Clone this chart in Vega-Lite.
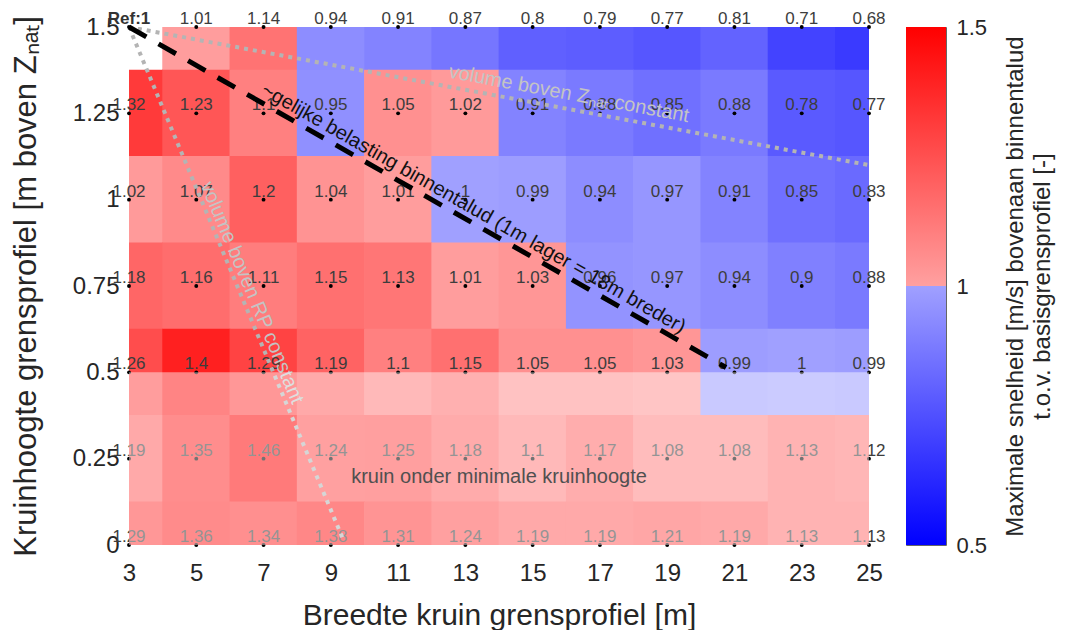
{
  "$schema": "https://vega.github.io/schema/vega-lite/v6.json",
  "background": "white",
  "padding": {"left": 10, "top": 10, "right": 5, "bottom": 0},
  "config": {
    "font": "Liberation Sans",
    "view": {"stroke": null},
    "axis": {
      "grid": false,
      "domain": false,
      "ticks": false,
      "labelColor": "#262626",
      "titleColor": "#262626",
      "titleFontWeight": "normal",
      "labelFont": "Liberation Sans",
      "titleFont": "Liberation Sans"
    }
  },
  "datasets": {
    "grid": [
      {"breedte": 3, "kruinhoogte": 1.5, "snelheid": 1, "ref": true},
      {"breedte": 5, "kruinhoogte": 1.5, "snelheid": 1.01},
      {"breedte": 7, "kruinhoogte": 1.5, "snelheid": 1.14},
      {"breedte": 9, "kruinhoogte": 1.5, "snelheid": 0.94},
      {"breedte": 11, "kruinhoogte": 1.5, "snelheid": 0.91},
      {"breedte": 13, "kruinhoogte": 1.5, "snelheid": 0.87},
      {"breedte": 15, "kruinhoogte": 1.5, "snelheid": 0.8},
      {"breedte": 17, "kruinhoogte": 1.5, "snelheid": 0.79},
      {"breedte": 19, "kruinhoogte": 1.5, "snelheid": 0.77},
      {"breedte": 21, "kruinhoogte": 1.5, "snelheid": 0.81},
      {"breedte": 23, "kruinhoogte": 1.5, "snelheid": 0.71},
      {"breedte": 25, "kruinhoogte": 1.5, "snelheid": 0.68},
      {"breedte": 3, "kruinhoogte": 1.25, "snelheid": 1.32},
      {"breedte": 5, "kruinhoogte": 1.25, "snelheid": 1.23},
      {"breedte": 7, "kruinhoogte": 1.25, "snelheid": 1.1},
      {"breedte": 9, "kruinhoogte": 1.25, "snelheid": 0.95},
      {"breedte": 11, "kruinhoogte": 1.25, "snelheid": 1.05},
      {"breedte": 13, "kruinhoogte": 1.25, "snelheid": 1.02},
      {"breedte": 15, "kruinhoogte": 1.25, "snelheid": 0.91},
      {"breedte": 17, "kruinhoogte": 1.25, "snelheid": 0.88},
      {"breedte": 19, "kruinhoogte": 1.25, "snelheid": 0.85},
      {"breedte": 21, "kruinhoogte": 1.25, "snelheid": 0.88},
      {"breedte": 23, "kruinhoogte": 1.25, "snelheid": 0.78},
      {"breedte": 25, "kruinhoogte": 1.25, "snelheid": 0.77},
      {"breedte": 3, "kruinhoogte": 1, "snelheid": 1.02},
      {"breedte": 5, "kruinhoogte": 1, "snelheid": 1.07},
      {"breedte": 7, "kruinhoogte": 1, "snelheid": 1.2},
      {"breedte": 9, "kruinhoogte": 1, "snelheid": 1.04},
      {"breedte": 11, "kruinhoogte": 1, "snelheid": 1.01},
      {"breedte": 13, "kruinhoogte": 1, "snelheid": 1},
      {"breedte": 15, "kruinhoogte": 1, "snelheid": 0.99},
      {"breedte": 17, "kruinhoogte": 1, "snelheid": 0.94},
      {"breedte": 19, "kruinhoogte": 1, "snelheid": 0.97},
      {"breedte": 21, "kruinhoogte": 1, "snelheid": 0.91},
      {"breedte": 23, "kruinhoogte": 1, "snelheid": 0.85},
      {"breedte": 25, "kruinhoogte": 1, "snelheid": 0.83},
      {"breedte": 3, "kruinhoogte": 0.75, "snelheid": 1.18},
      {"breedte": 5, "kruinhoogte": 0.75, "snelheid": 1.16},
      {"breedte": 7, "kruinhoogte": 0.75, "snelheid": 1.11},
      {"breedte": 9, "kruinhoogte": 0.75, "snelheid": 1.15},
      {"breedte": 11, "kruinhoogte": 0.75, "snelheid": 1.13},
      {"breedte": 13, "kruinhoogte": 0.75, "snelheid": 1.01},
      {"breedte": 15, "kruinhoogte": 0.75, "snelheid": 1.03},
      {"breedte": 17, "kruinhoogte": 0.75, "snelheid": 0.96},
      {"breedte": 19, "kruinhoogte": 0.75, "snelheid": 0.97},
      {"breedte": 21, "kruinhoogte": 0.75, "snelheid": 0.94},
      {"breedte": 23, "kruinhoogte": 0.75, "snelheid": 0.9},
      {"breedte": 25, "kruinhoogte": 0.75, "snelheid": 0.88},
      {"breedte": 3, "kruinhoogte": 0.5, "snelheid": 1.26},
      {"breedte": 5, "kruinhoogte": 0.5, "snelheid": 1.4},
      {"breedte": 7, "kruinhoogte": 0.5, "snelheid": 1.29},
      {"breedte": 9, "kruinhoogte": 0.5, "snelheid": 1.19},
      {"breedte": 11, "kruinhoogte": 0.5, "snelheid": 1.1},
      {"breedte": 13, "kruinhoogte": 0.5, "snelheid": 1.15},
      {"breedte": 15, "kruinhoogte": 0.5, "snelheid": 1.05},
      {"breedte": 17, "kruinhoogte": 0.5, "snelheid": 1.05},
      {"breedte": 19, "kruinhoogte": 0.5, "snelheid": 1.03},
      {"breedte": 21, "kruinhoogte": 0.5, "snelheid": 0.99},
      {"breedte": 23, "kruinhoogte": 0.5, "snelheid": 1},
      {"breedte": 25, "kruinhoogte": 0.5, "snelheid": 0.99},
      {"breedte": 3, "kruinhoogte": 0.25, "snelheid": 1.19},
      {"breedte": 5, "kruinhoogte": 0.25, "snelheid": 1.35},
      {"breedte": 7, "kruinhoogte": 0.25, "snelheid": 1.46},
      {"breedte": 9, "kruinhoogte": 0.25, "snelheid": 1.24},
      {"breedte": 11, "kruinhoogte": 0.25, "snelheid": 1.25},
      {"breedte": 13, "kruinhoogte": 0.25, "snelheid": 1.18},
      {"breedte": 15, "kruinhoogte": 0.25, "snelheid": 1.1},
      {"breedte": 17, "kruinhoogte": 0.25, "snelheid": 1.17},
      {"breedte": 19, "kruinhoogte": 0.25, "snelheid": 1.08},
      {"breedte": 21, "kruinhoogte": 0.25, "snelheid": 1.08},
      {"breedte": 23, "kruinhoogte": 0.25, "snelheid": 1.13},
      {"breedte": 25, "kruinhoogte": 0.25, "snelheid": 1.12},
      {"breedte": 3, "kruinhoogte": 0, "snelheid": 1.29},
      {"breedte": 5, "kruinhoogte": 0, "snelheid": 1.36},
      {"breedte": 7, "kruinhoogte": 0, "snelheid": 1.34},
      {"breedte": 9, "kruinhoogte": 0, "snelheid": 1.38},
      {"breedte": 11, "kruinhoogte": 0, "snelheid": 1.31},
      {"breedte": 13, "kruinhoogte": 0, "snelheid": 1.24},
      {"breedte": 15, "kruinhoogte": 0, "snelheid": 1.19},
      {"breedte": 17, "kruinhoogte": 0, "snelheid": 1.19},
      {"breedte": 19, "kruinhoogte": 0, "snelheid": 1.21},
      {"breedte": 21, "kruinhoogte": 0, "snelheid": 1.19},
      {"breedte": 23, "kruinhoogte": 0, "snelheid": 1.13},
      {"breedte": 25, "kruinhoogte": 0, "snelheid": 1.13}
    ],
    "lijnen": [
      {"lijn": "RP", "breedte": 3, "kruinhoogte": 1.5},
      {"lijn": "RP", "breedte": 9.35, "kruinhoogte": 0.02},
      {"lijn": "Znat", "breedte": 3, "kruinhoogte": 1.5},
      {"lijn": "Znat", "breedte": 25, "kruinhoogte": 1.1},
      {"lijn": "belasting", "breedte": 3, "kruinhoogte": 1.5},
      {"lijn": "belasting", "breedte": 20.75, "kruinhoogte": 0.514}
    ],
    "zone": [
      {"zone": "kruin onder minimale kruinhoogte", "van": 0, "tot": 0.5}
    ],
    "kleurschaal": [
      {"van": 0.5, "tot": 1},
      {"van": 1, "tot": 1.5}
    ]
  },
  "spacing": 37,
  "bounds": "flush",
  "hconcat": [
    {
      "width": 740,
      "height": 518,
      "layer": [
        {
          "data": {"name": "grid"},
          "transform": [{"filter": "!datum.ref"}],
          "mark": {"type": "rect", "clip": true, "xOffset": -34, "x2Offset": 34, "yOffset": 43.6, "y2Offset": -43.6},
          "encoding": {
            "x": {
              "field": "breedte", "type": "quantitative",
              "scale": {"domain": [3, 25], "nice": false, "zero": false},
              "axis": {
                "title": "Breedte kruin grensprofiel [m]",
                "values": [3, 5, 7, 9, 11, 13, 15, 17, 19, 21, 23, 25],
                "labelFontSize": 24, "labelPadding": 16, "labelFlush": false,
                "titleFontSize": 30, "titlePadding": 15
              }
            },
            "x2": {"field": "breedte"},
            "y": {
              "field": "kruinhoogte", "type": "quantitative",
              "scale": {"domain": [0, 1.5], "nice": false, "zero": false},
              "axis": {
                "title": "Kruinhoogte grensprofiel [m boven Zₙₐₜ]",
                "values": [0, 0.25, 0.5, 0.75, 1, 1.25, 1.5],
                "labelExpr": "datum.value + ''",
                "labelFontSize": 24, "labelPadding": 10,
                "titleFontSize": 31, "titlePadding": 30
              }
            },
            "y2": {"field": "kruinhoogte"},
            "color": {
              "field": "snelheid", "type": "quantitative",
              "scale": {
                "type": "linear",
                "domain": [0.5, 1, 1.0001, 1.5],
                "range": ["#0000ff", "#a0a0ff", "#ffa0a0", "#ff0000"],
                "interpolate": "rgb"
              },
              "legend": null
            }
          }
        },
        {
          "data": {"name": "grid"},
          "transform": [{"filter": "!datum.ref"}],
          "mark": {"type": "text", "fontSize": 17, "color": "#3d3d3d", "align": "center", "baseline": "alphabetic", "dy": -3},
          "encoding": {
            "x": {"field": "breedte", "type": "quantitative"},
            "y": {"field": "kruinhoogte", "type": "quantitative"},
            "text": {"field": "snelheid", "type": "quantitative", "format": "~g"}
          }
        },
        {
          "data": {"name": "grid"},
          "transform": [{"filter": "datum.ref"}],
          "mark": {"type": "text", "fontSize": 17, "fontWeight": "bold", "color": "#333333", "align": "center", "baseline": "alphabetic", "dy": -3,
                   "text": {"expr": "'Ref:' + format(datum.snelheid, '~g')"}},
          "encoding": {
            "x": {"field": "breedte", "type": "quantitative"},
            "y": {"field": "kruinhoogte", "type": "quantitative"}
          }
        },
        {
          "data": {"name": "grid"},
          "mark": {"type": "point", "filled": true, "color": "black", "size": 15, "opacity": 1},
          "encoding": {
            "x": {"field": "breedte", "type": "quantitative"},
            "y": {"field": "kruinhoogte", "type": "quantitative"}
          }
        },
        {
          "data": {"name": "lijnen"},
          "transform": [{"filter": "datum.lijn !== 'belasting'"}],
          "mark": {"type": "line", "color": "#b4b4b4", "strokeWidth": 4, "strokeDash": [4, 5], "clip": true},
          "encoding": {
            "x": {"field": "breedte", "type": "quantitative"},
            "y": {"field": "kruinhoogte", "type": "quantitative"},
            "detail": {"field": "lijn"}
          }
        },
        {
          "data": {"values": [{}]},
          "mark": {"type": "text", "text": "volume boven Zₙₐₜ constant", "angle": 10.57, "fontSize": 20, "color": "#c4c4c4", "align": "center", "baseline": "alphabetic", "dy": -9},
          "encoding": {"x": {"datum": 16.0}, "y": {"datum": 1.2636}}
        },
        {
          "data": {"values": [{}]},
          "mark": {"type": "text", "text": "volume boven RP constant", "angle": 67.32, "fontSize": 20, "color": "#c4c4c4", "align": "center", "baseline": "alphabetic", "dy": -5},
          "encoding": {"x": {"datum": 6.354}, "y": {"datum": 0.7183}}
        },
        {
          "data": {"name": "lijnen"},
          "transform": [{"filter": "datum.lijn === 'belasting'"}],
          "mark": {"type": "line", "color": "black", "strokeWidth": 5, "strokeDash": [20, 14]},
          "encoding": {
            "x": {"field": "breedte", "type": "quantitative"},
            "y": {"field": "kruinhoogte", "type": "quantitative"}
          }
        },
        {
          "data": {"values": [{}]},
          "mark": {"type": "text", "text": "~gelijke belasting binnentalud (1m lager = 18m breder)", "angle": 29.69, "fontSize": 20, "color": "#111111", "align": "center", "baseline": "alphabetic", "dy": -7},
          "encoding": {"x": {"datum": 13.05}, "y": {"datum": 0.9417}}
        },
        {
          "data": {"name": "zone"},
          "mark": {"type": "rect", "color": "white", "opacity": 0.45, "clip": true},
          "encoding": {
            "x": {"datum": 3, "type": "quantitative"},
            "x2": {"datum": 25},
            "y": {"field": "van", "type": "quantitative"},
            "y2": {"field": "tot"}
          }
        },
        {
          "data": {"name": "zone"},
          "mark": {"type": "text", "fontSize": 20, "color": "#505050", "align": "center", "baseline": "alphabetic"},
          "encoding": {
            "text": {"field": "zone"},
            "x": {"datum": 14},
            "y": {"datum": 0.18}
          }
        }
      ]
    },
    {
      "width": 40,
      "height": 518,
      "view": {"stroke": "#666666", "strokeWidth": 1},
      "data": {"name": "kleurschaal"},
      "layer": [
        {
          "transform": [{"filter": "datum.tot <= 1"}],
          "mark": {
            "type": "rect",
            "color": {"gradient": "linear", "x1": 0, "y1": 1, "x2": 0, "y2": 0,
                      "stops": [{"offset": 0, "color": "#0000ff"}, {"offset": 1, "color": "#a0a0ff"}]}
          },
          "encoding": {
            "y": {
              "field": "van", "type": "quantitative",
              "scale": {"domain": [0.5, 1.5], "nice": false, "zero": false},
              "axis": {
                "orient": "right",
                "values": [0.5, 1, 1.5],
                "labelExpr": "datum.value + ''",
                "labelFontSize": 22, "labelPadding": 10,
                "title": ["Maximale snelheid [m/s] bovenaan binnentalud", "t.o.v. basisgrensprofiel [-]"],
                "titleFontSize": 24, "titleAngle": 270, "titleBaseline": "top", "titlePadding": -10,
                "titleLineHeight": 27
              }
            },
            "y2": {"field": "tot"}
          }
        },
        {
          "transform": [{"filter": "datum.van >= 1"}],
          "mark": {
            "type": "rect",
            "color": {"gradient": "linear", "x1": 0, "y1": 1, "x2": 0, "y2": 0,
                      "stops": [{"offset": 0, "color": "#ffa0a0"}, {"offset": 1, "color": "#ff0000"}]}
          },
          "encoding": {
            "y": {"field": "van", "type": "quantitative"},
            "y2": {"field": "tot"}
          }
        }
      ]
    }
  ]
}
